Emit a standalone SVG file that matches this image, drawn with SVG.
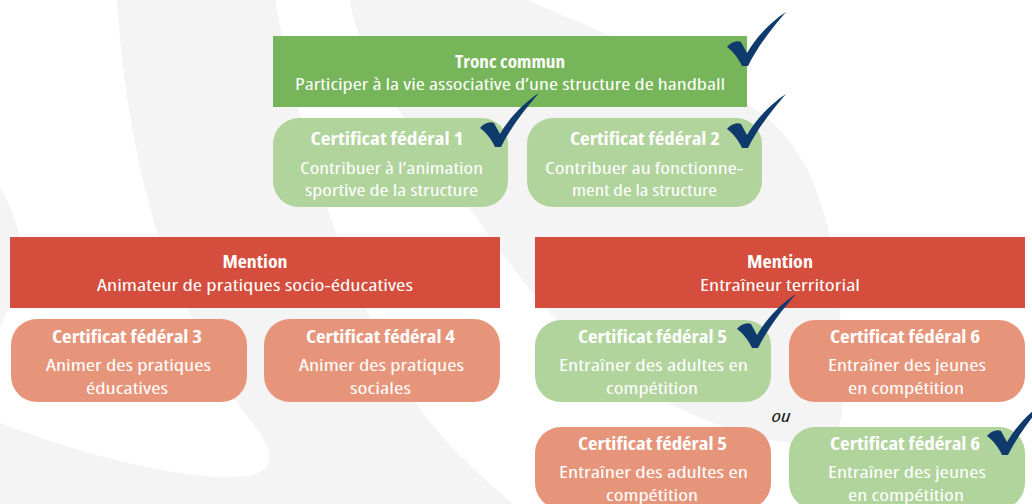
<svg xmlns="http://www.w3.org/2000/svg" xmlns:xlink="http://www.w3.org/1999/xlink" width="1032" height="504" viewBox="0 0 1032 504">
<defs>
<style>
.bg{fill:#f4f4f4}
.tronc{fill:#77b55a}
.ok{fill:#b1d39c}
.mention{fill:#d44d3d}
.todo{fill:#e7957a}
text{font-family:"Open Sans",Lato,"Liberation Sans",sans-serif;fill:#fff;text-anchor:middle;font-size:17px;font-weight:500;font-stretch:condensed}
.b{font-weight:bold}
.ou{fill:#1a1a1a;font-style:italic;font-weight:normal}
.chk{fill:#0e3b6c}
</style>
<path id="check" d="M0,0 C-3,-7 -9,-15 -15,-19 C-11,-24 -5,-26 -1,-24 C1,-20 3,-17 5,-13 C13,-27 27,-43 44,-54 C30,-38 16,-20 6,0 Z"/>
</defs>
<g id="background">
<rect width="1032" height="504" fill="#ffffff"/>
<path class="bg" d="M117,0 L275,0 C300,130 340,280 415,402 C445,445 480,475 513,504 L0,504 L0,423 C70,450 150,472 215,477 C255,479 275,472 268,450 C262,430 245,415 235,400 C200,340 170,270 158,235 C135,160 122,80 117,0 Z"/>
<path class="bg" d="M0,187 C10,205 18,222 20,245 C20,280 10,305 0,327 Z"/>
<path class="bg" d="M350,0 L527,0 C620,40 720,80 770,120 C815,160 835,230 840,313 C844,380 846,420 835,435 C825,446 800,446 770,440 C640,410 560,330 520,277 C495,245 480,225 465,200 C420,140 360,70 350,0 Z"/>
</g>
<g id="connectors"/>
<g id="tronc-commun">
<rect class="tronc" x="273" y="36" width="474" height="71"/>
<text class="b" x="510" y="68" textLength="110" lengthAdjust="spacingAndGlyphs">Tronc commun</text>
<text x="510" y="89.5" textLength="430" lengthAdjust="spacingAndGlyphs">Participer à la vie associative d’une structure de handball</text>
<use xlink:href="#check" class="chk" transform="translate(742,66)"/>
</g>
<g id="cf1">
<rect class="ok" x="273" y="118" width="235" height="89" rx="26"/>
<text class="b" x="387" y="145" textLength="153" lengthAdjust="spacingAndGlyphs">Certificat fédéral 1</text>
<text x="391.5" y="173.5" textLength="183" lengthAdjust="spacingAndGlyphs">Contribuer à l’animation</text>
<text x="391.5" y="195.5" textLength="173" lengthAdjust="spacingAndGlyphs">sportive de la structure</text>
<use xlink:href="#check" class="chk" transform="translate(495,147)"/>
</g>
<g id="cf2">
<rect class="ok" x="527" y="118" width="235" height="89" rx="26"/>
<text class="b" x="645" y="145" textLength="150" lengthAdjust="spacingAndGlyphs">Certificat fédéral 2</text>
<text x="644" y="173.5" textLength="198" lengthAdjust="spacingAndGlyphs">Contribuer au fonctionne-</text>
<text x="644.5" y="195.5" textLength="145" lengthAdjust="spacingAndGlyphs">ment de la structure</text>
<use xlink:href="#check" class="chk" transform="translate(742,148)"/>
</g>
<g id="mention-animateur">
<rect class="mention" x="10" y="237" width="490" height="71"/>
<text class="b" x="255" y="268" textLength="65" lengthAdjust="spacingAndGlyphs">Mention</text>
<text x="255" y="291" textLength="316" lengthAdjust="spacingAndGlyphs">Animateur de pratiques socio-éducatives</text>
</g>
<g id="cf3">
<rect class="todo" x="11" y="319" width="236" height="83" rx="26"/>
<text class="b" x="127" y="343" textLength="150" lengthAdjust="spacingAndGlyphs">Certificat fédéral 3</text>
<text x="128.5" y="371" textLength="165" lengthAdjust="spacingAndGlyphs">Animer des pratiques</text>
<text x="127" y="394" textLength="82" lengthAdjust="spacingAndGlyphs">éducatives</text>
</g>
<g id="cf4">
<rect class="todo" x="264" y="319" width="236" height="83" rx="26"/>
<text class="b" x="380.5" y="343" textLength="149" lengthAdjust="spacingAndGlyphs">Certificat fédéral 4</text>
<text x="381.5" y="371" textLength="165" lengthAdjust="spacingAndGlyphs">Animer des pratiques</text>
<text x="380.5" y="394" textLength="61" lengthAdjust="spacingAndGlyphs">sociales</text>
</g>
<g id="mention-entraineur">
<rect class="mention" x="535" y="237" width="490" height="71"/>
<text class="b" x="780" y="268" textLength="66" lengthAdjust="spacingAndGlyphs">Mention</text>
<text x="780" y="291" textLength="160" lengthAdjust="spacingAndGlyphs">Entraîneur territorial</text>
</g>
<g id="cf5-a">
<rect class="ok" x="535" y="320" width="236" height="82" rx="26"/>
<text class="b" x="652.5" y="343" textLength="149" lengthAdjust="spacingAndGlyphs">Certificat fédéral 5</text>
<text x="653.5" y="371" textLength="189" lengthAdjust="spacingAndGlyphs">Entraîner des adultes en</text>
<text x="652" y="394" textLength="92" lengthAdjust="spacingAndGlyphs">compétition</text>
<use xlink:href="#check" class="chk" transform="translate(752,348)"/>
</g>
<g id="cf6-a">
<rect class="todo" x="789" y="320" width="236" height="82" rx="26"/>
<text class="b" x="905" y="343" textLength="150" lengthAdjust="spacingAndGlyphs">Certificat fédéral 6</text>
<text x="907" y="371" textLength="158" lengthAdjust="spacingAndGlyphs">Entraîner des jeunes</text>
<text x="906" y="394" textLength="116" lengthAdjust="spacingAndGlyphs">en compétition</text>
</g>
<g id="ou">
<text class="ou" x="781" y="421.5" textLength="19" lengthAdjust="spacingAndGlyphs">ou</text>
</g>
<g id="cf5-b">
<rect class="todo" x="535" y="427" width="236" height="82" rx="26"/>
<text class="b" x="652.5" y="450" textLength="149" lengthAdjust="spacingAndGlyphs">Certificat fédéral 5</text>
<text x="653.5" y="478" textLength="189" lengthAdjust="spacingAndGlyphs">Entraîner des adultes en</text>
<text x="652" y="501" textLength="92" lengthAdjust="spacingAndGlyphs">compétition</text>
</g>
<g id="cf6-b">
<rect class="ok" x="789" y="427" width="236" height="82" rx="26"/>
<text class="b" x="905" y="450" textLength="150" lengthAdjust="spacingAndGlyphs">Certificat fédéral 6</text>
<text x="907" y="478" textLength="158" lengthAdjust="spacingAndGlyphs">Entraîner des jeunes</text>
<text x="906" y="501" textLength="116" lengthAdjust="spacingAndGlyphs">en compétition</text>
<use xlink:href="#check" class="chk" transform="translate(1002,455)"/>
</g>
</svg>
